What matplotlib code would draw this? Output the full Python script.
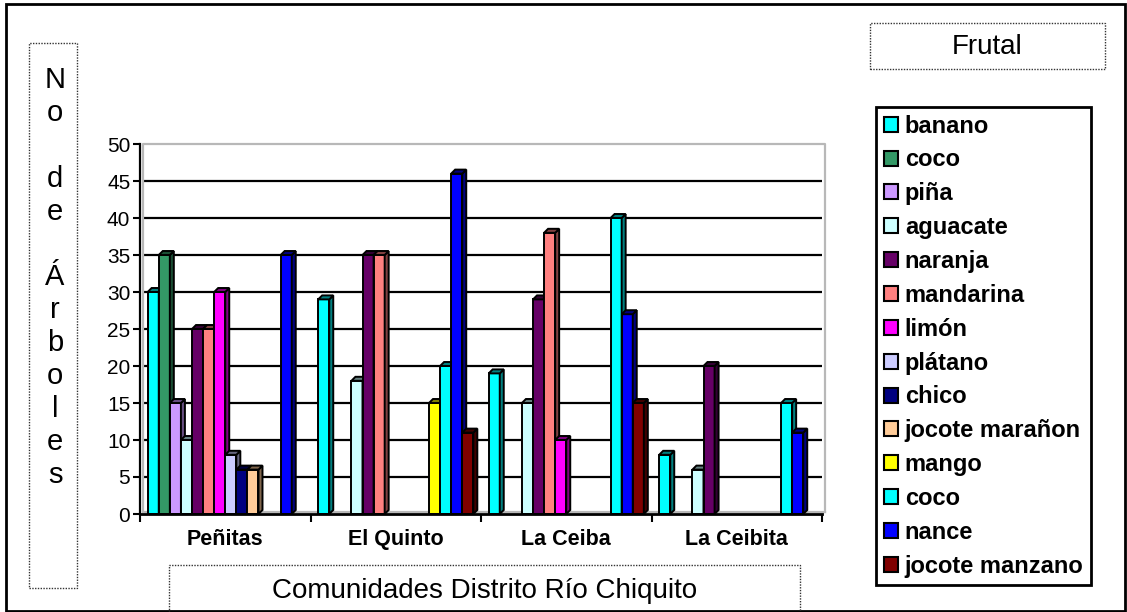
import numpy as np
import matplotlib.pyplot as plt
from matplotlib.patches import Rectangle, Polygon, Patch
from matplotlib.colors import to_rgb

plt.rcParams['font.family'] = ['Liberation Sans', 'DejaVu Sans']

W, H = 1127, 612

# Tree counts per community (Peñitas, El Quinto, La Ceiba, La Ceibita)
communities = ["Peñitas", "El Quinto", "La Ceiba", "La Ceibita"]
banano = [30, 29, 19, 8]
coco = [35, 0, 0, 0]
pina = [15, 0, 0, 0]
aguacate = [10, 18, 15, 6]
naranja = [25, 35, 29, 20]
mandarina = [25, 35, 38, 0]
limon = [30, 0, 10, 0]
platano = [8, 0, 0, 0]
chico = [6, 0, 0, 0]
jocote_maranon = [6, 0, 0, 0]
mango = [0, 15, 0, 0]
coco_2 = [0, 20, 40, 15]
nance = [35, 46, 27, 11]
jocote_manzano = [0, 11, 15, 0]

fruit_names = ["banano", "coco", "piña", "aguacate", "naranja", "mandarina",
               "limón", "plátano", "chico", "jocote marañon", "mango", "coco",
               "nance", "jocote manzano"]
series = [banano, coco, pina, aguacate, naranja, mandarina, limon, platano,
          chico, jocote_maranon, mango, coco_2, nance, jocote_manzano]
colors = ["#00FFFF", "#339966", "#CC99FF", "#CCFFFF", "#660066", "#FF8080",
          "#FF00FF", "#CCCCFF", "#000080", "#FFCC99", "#FFFF00", "#00FFFF",
          "#0000FF", "#800000"]


def fx(x):
    return x / W


def fy(y):
    return 1 - y / H


fig = plt.figure(figsize=(W / 100, H / 100), dpi=100)
ax = fig.add_axes([fx(140), fy(514), 682 / W, 370 / H])
ax.set_xlim(0, 4)
ax.set_ylim(0, 50)

# horizontal gridlines and the grey back wall
ax.hlines(np.arange(5, 50, 5), 0.02, 4.0, color='black', lw=1.6, zorder=1)
ax.plot([0.018, 0.018, 4.02, 4.02], [0.3, 50, 50, 0.3], color='#b8b8b8',
        lw=1.6, clip_on=False, zorder=1)
ax.plot([0.018, 4.02], [0.3, 0.3], color='#b8b8b8', lw=1.6, clip_on=False, zorder=1)

# bars with a small 3D depth (side + top faces)
slot = 0.065
start = 0.045
dx = 4 / 170.5
dy = 4 / 7.4
groups = np.arange(len(communities))
for i, (vals, col) in enumerate(zip(series, colors)):
    vals = np.asarray(vals, dtype=float)
    xs = groups + start + i * slot
    keep = vals > 0
    ax.bar(xs[keep], vals[keep], width=slot, align='edge', color=col,
           edgecolor='black', linewidth=1.4, zorder=3 + i)
    dark = tuple(c * 0.5 for c in to_rgb(col))
    for xl, v in zip(xs[keep], vals[keep]):
        xr = xl + slot
        side = Polygon([(xr, 0), (xr + dx, dy), (xr + dx, v + dy), (xr, v)],
                       closed=True, facecolor=dark, edgecolor='black',
                       lw=1.4, zorder=3 + i)
        top = Polygon([(xl, v), (xl + dx, v + dy), (xr + dx, v + dy), (xr, v)],
                      closed=True, facecolor=dark, edgecolor='black',
                      lw=1.4, zorder=3 + i)
        ax.add_patch(side)
        ax.add_patch(top)

for s in ['top', 'right']:
    ax.spines[s].set_visible(False)
ax.spines['left'].set_linewidth(1.6)
ax.spines['bottom'].set_linewidth(2)
ax.spines['left'].set_zorder(30)
ax.spines['bottom'].set_zorder(30)

ax.set_yticks(np.arange(0, 51, 5))
ax.tick_params(axis='y', direction='out', length=5, width=1.5, labelsize=15, pad=2)
ax.set_xticks(np.arange(0, 5))
ax.set_xticklabels([])
ax.tick_params(axis='x', which='major', direction='out', length=6, width=1.5)
ax.set_xticks(groups + 0.5, minor=True)
ax.set_xticklabels(communities, minor=True, fontsize=15.5, fontweight='bold')
ax.tick_params(axis='x', which='minor', length=0, pad=11)

# outer frame and dotted title boxes
fig.patches.append(Rectangle((fx(6), fy(611)), (1125 - 6) / W, (611 - 4) / H,
                             transform=fig.transFigure, fill=False,
                             ec='black', lw=2))
for x0, y0, x1, y1 in [(29, 43, 77, 588), (870, 23, 1105, 69), (169, 565, 800, 640)]:
    fig.patches.append(Rectangle((fx(x0), fy(y1)), (x1 - x0) / W, (y1 - y0) / H,
                                 transform=fig.transFigure, fill=False,
                                 ec='#333333', lw=1, ls=(0, (1, 1))))

fig.text(fx(55), fy(66), "N\no\n\nd\ne\n\nÁ\nr\nb\no\nl\ne\ns", ha='center',
         va='top', fontsize=21, linespacing=1.223)
fig.text(fx(987), fy(47), "Frutal", ha='center', va='center', fontsize=20)
fig.text(fx(485), fy(591), "Comunidades Distrito Río Chiquito", ha='center',
         va='center', fontsize=20)

handles = [Patch(facecolor=c, edgecolor='black', lw=1.5) for c in colors]
leg = fig.legend(handles, fruit_names, loc='upper left',
                 bbox_to_anchor=(fx(876), fy(107)), frameon=True,
                 fancybox=False, framealpha=1, edgecolor='black',
                 prop=dict(weight='bold', size=17), handlelength=0.6,
                 handleheight=0.6, handletextpad=0.3, labelspacing=0.46,
                 borderpad=0.32, borderaxespad=0)
leg.get_frame().set_linewidth(2)

fig.savefig("out.png", dpi=100)
